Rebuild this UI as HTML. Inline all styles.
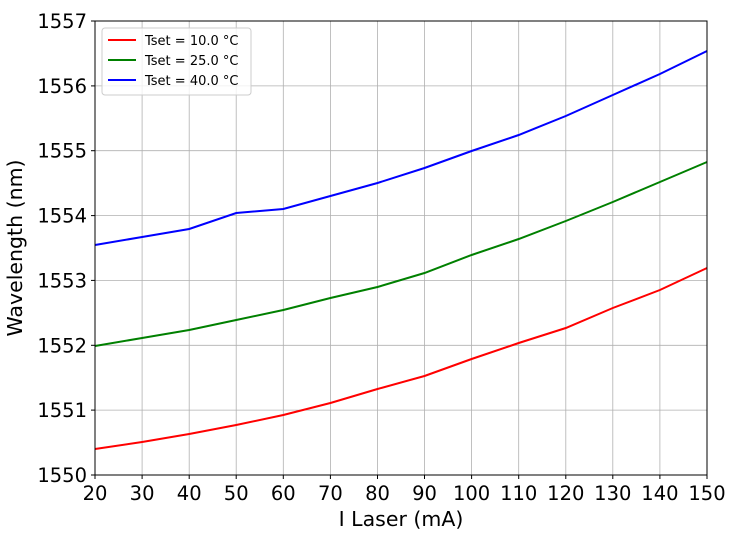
<!DOCTYPE html>
<html><head><meta charset="utf-8"><style>body{margin:0;background:#fff}svg{display:block}text{font-family:"DejaVu Sans","Liberation Sans",sans-serif}</style></head><body>
<svg width="730" height="535" xmlns="http://www.w3.org/2000/svg">
<g stroke="#b0b0b0" stroke-width="0.8">
<line x1="142.1" y1="21" x2="142.1" y2="475"/><line x1="189.2" y1="21" x2="189.2" y2="475"/><line x1="236.2" y1="21" x2="236.2" y2="475"/><line x1="283.3" y1="21" x2="283.3" y2="475"/><line x1="330.4" y1="21" x2="330.4" y2="475"/><line x1="377.5" y1="21" x2="377.5" y2="475"/><line x1="424.5" y1="21" x2="424.5" y2="475"/><line x1="471.6" y1="21" x2="471.6" y2="475"/><line x1="518.7" y1="21" x2="518.7" y2="475"/><line x1="565.8" y1="21" x2="565.8" y2="475"/><line x1="612.8" y1="21" x2="612.8" y2="475"/><line x1="659.9" y1="21" x2="659.9" y2="475"/>
<line x1="95" y1="85.9" x2="707" y2="85.9"/><line x1="95" y1="150.7" x2="707" y2="150.7"/><line x1="95" y1="215.6" x2="707" y2="215.6"/><line x1="95" y1="280.4" x2="707" y2="280.4"/><line x1="95" y1="345.3" x2="707" y2="345.3"/><line x1="95" y1="410.1" x2="707" y2="410.1"/>
</g>
<g fill="none" stroke-width="2">
<polyline stroke="#ff0000" points="95,449 142.1,442 189.2,434 236.2,425 283.3,415 330.4,403 377.5,389 424.5,376 471.6,359 518.7,343 565.8,328 612.8,308 659.9,290 707,268"/>
<polyline stroke="#008000" points="95,346 142.1,338 189.2,330 236.2,320 283.3,310 330.4,298 377.5,287 424.5,273 471.6,255 518.7,239 565.8,221 612.8,202 659.9,182 707,162"/>
<polyline stroke="#0000ff" points="95,245 142.1,237 189.2,229 236.2,213 283.3,209 330.4,196 377.5,183 424.5,168 471.6,151 518.7,135 565.8,116 612.8,95 659.9,74 707,51"/>
</g>
<rect x="95" y="21" width="612" height="454" fill="none" stroke="#000" stroke-width="1"/>
<g stroke="#000"><line x1="95" y1="475" x2="95" y2="479"/><line x1="142.1" y1="475" x2="142.1" y2="479"/><line x1="189.2" y1="475" x2="189.2" y2="479"/><line x1="236.2" y1="475" x2="236.2" y2="479"/><line x1="283.3" y1="475" x2="283.3" y2="479"/><line x1="330.4" y1="475" x2="330.4" y2="479"/><line x1="377.5" y1="475" x2="377.5" y2="479"/><line x1="424.5" y1="475" x2="424.5" y2="479"/><line x1="471.6" y1="475" x2="471.6" y2="479"/><line x1="518.7" y1="475" x2="518.7" y2="479"/><line x1="565.8" y1="475" x2="565.8" y2="479"/><line x1="612.8" y1="475" x2="612.8" y2="479"/><line x1="659.9" y1="475" x2="659.9" y2="479"/><line x1="707" y1="475" x2="707" y2="479"/>
<line x1="91" y1="21" x2="95" y2="21"/><line x1="91" y1="85.9" x2="95" y2="85.9"/><line x1="91" y1="150.7" x2="95" y2="150.7"/><line x1="91" y1="215.6" x2="95" y2="215.6"/><line x1="91" y1="280.4" x2="95" y2="280.4"/><line x1="91" y1="345.3" x2="95" y2="345.3"/><line x1="91" y1="410.1" x2="95" y2="410.1"/><line x1="91" y1="475" x2="95" y2="475"/></g>
<g font-size="19.5" text-anchor="middle">
<text x="95" y="500">20</text><text x="142.1" y="500">30</text><text x="189.2" y="500">40</text><text x="236.2" y="500">50</text><text x="283.3" y="500">60</text><text x="330.4" y="500">70</text><text x="377.5" y="500">80</text><text x="424.5" y="500">90</text><text x="471.6" y="500">100</text><text x="518.7" y="500">110</text><text x="565.8" y="500">120</text><text x="612.8" y="500">130</text><text x="659.9" y="500">140</text><text x="707" y="500">150</text>
</g>
<g font-size="19.5" text-anchor="end">
<text x="87" y="28">1557</text><text x="87" y="92.9">1556</text><text x="87" y="157.7">1555</text><text x="87" y="222.6">1554</text><text x="87" y="287.4">1553</text><text x="87" y="352.3">1552</text><text x="87" y="417.1">1551</text><text x="87" y="482">1550</text>
</g>
<text x="401" y="526" font-size="20.5" text-anchor="middle">I Laser (mA)</text>
<text transform="translate(22,248) rotate(-90)" font-size="20.5" text-anchor="middle">Wavelength (nm)</text>
<rect x="102" y="28" width="149" height="67" fill="#fff" fill-opacity="0.8" stroke="#ccc" rx="3"/>
<line x1="108" y1="40" x2="136" y2="40" stroke="#ff0000" stroke-width="2"/>
<line x1="108" y1="60" x2="136" y2="60" stroke="#008000" stroke-width="2"/>
<line x1="108" y1="80" x2="136" y2="80" stroke="#0000ff" stroke-width="2"/>
<g font-size="13"><text x="145" y="45">Tset = 10.0 °C</text><text x="145" y="65">Tset = 25.0 °C</text><text x="145" y="85">Tset = 40.0 °C</text></g>
</svg>
</body></html>
